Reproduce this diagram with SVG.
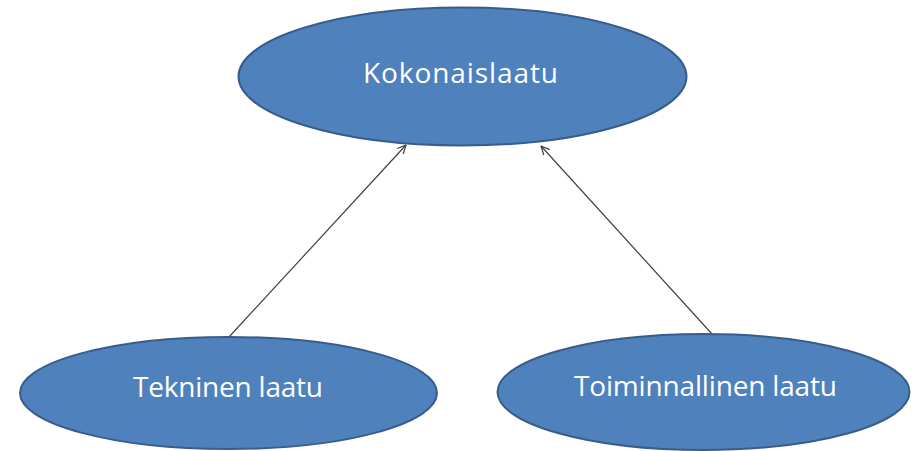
<svg xmlns="http://www.w3.org/2000/svg" width="912" height="451" viewBox="0 0 912 451">
<defs>
<style>
.node ellipse{fill:#4F81BD;stroke:#385D8A;stroke-width:2}
.node text{fill:#FFFFFF;font-family:"Open Sans","Liberation Sans",sans-serif;font-size:28px;text-anchor:middle}
.edge{stroke:#404040;stroke-width:1.2;fill:none;marker-end:url(#arr)}
</style>
<marker id="arr" viewBox="0 0 10 10" refX="9.5" refY="5" markerWidth="10" markerHeight="10" markerUnits="userSpaceOnUse" orient="auto">
<path d="M1,1 L9.5,5 L1,9" fill="none" stroke="#404040" stroke-width="1.2"/>
</marker>
</defs>
<rect width="912" height="451" fill="#FFFFFF"/>
<g id="connectors">
<line class="edge" x1="229" y1="337" x2="406" y2="145"/>
<line class="edge" x1="712" y1="334" x2="541" y2="146"/>
</g>
<g id="kokonaislaatu" class="node">
<ellipse cx="462.5" cy="76.5" rx="224" ry="69"/>
<text x="460.5" y="83" textLength="195" lengthAdjust="spacing">Kokonaislaatu</text>
</g>
<g id="tekninen" class="node">
<ellipse cx="228.5" cy="393" rx="208.5" ry="56"/>
<text x="228" y="397" textLength="190" lengthAdjust="spacing">Tekninen laatu</text>
</g>
<g id="toiminnallinen" class="node">
<ellipse cx="703.5" cy="392" rx="206" ry="58"/>
<text x="705.5" y="396" textLength="263" lengthAdjust="spacing">Toiminnallinen laatu</text>
</g>
</svg>
